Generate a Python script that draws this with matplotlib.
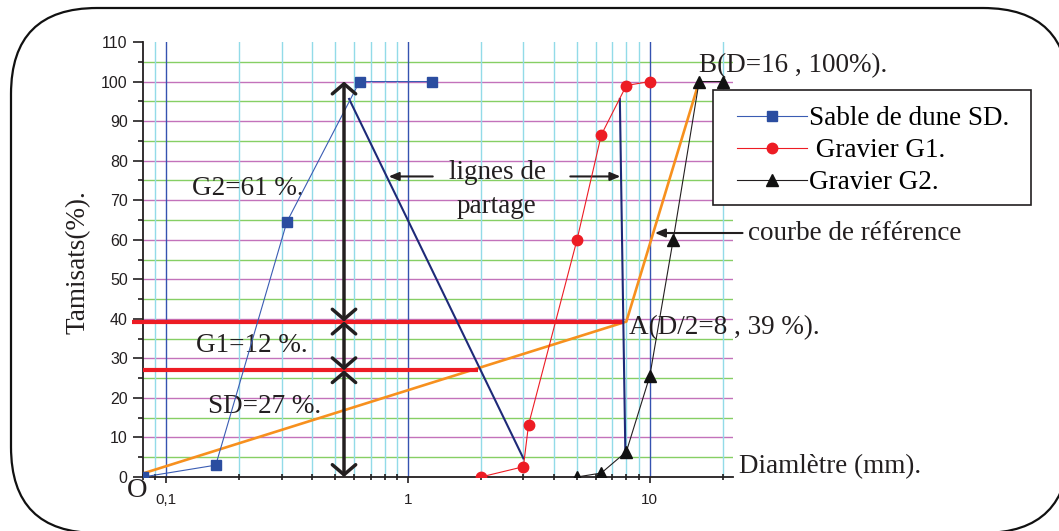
import numpy as np
import matplotlib
matplotlib.use("Agg")
import matplotlib.pyplot as plt
from matplotlib.patches import FancyBboxPatch, Rectangle
from matplotlib.transforms import IdentityTransform
from matplotlib.ticker import LogLocator, FixedLocator, FuncFormatter, MultipleLocator

# courbes granulométriques (diamètre en mm, tamisats en %)
sable_d = [0.08, 0.16, 0.315, 0.63, 1.25]
sable_t = [0, 3.0, 64.5, 100, 100]

g1_d = [2.0, 3.0, 3.15, 5.0, 6.3, 8.0, 10.0]
g1_t = [0, 2.6, 13.2, 60, 86.5, 99, 100]

g2_d = [5.0, 6.3, 8.0, 10.0, 12.5, 16.0, 20.0]
g2_t = [0, 1.0, 6.4, 25.5, 60, 100, 100]

# courbe de référence O -> A -> B
ref_d = [0.08, 8.0, 16.0]
ref_t = [0.9, 39.3, 100]

# lignes de partage
partage1_d = [0.57, 3.0]
partage1_t = [95.6, 4.7]
partage2_d = [7.52, 7.93]
partage2_t = [95.6, 5.0]

# pourcentages des constituants
pct_sd = 27.0
pct_g1 = 12.0
x_cote = 0.543

SERIF = ["Liberation Serif", "DejaVu Serif"]
SANS = ["Liberation Sans", "DejaVu Sans"]
plt.rcParams["font.family"] = SERIF

fig = plt.figure(figsize=(10.59, 5.31), dpi=100)
ax = fig.add_axes([143 / 1059, 1 - 477 / 531, 590 / 1059, 435 / 531])

ax.set_xscale("log")
ax.set_xlim(0.08, 22.1)
ax.set_ylim(0, 110)

ax.xaxis.set_major_locator(LogLocator(base=10, numticks=10))
ax.xaxis.set_minor_locator(LogLocator(base=10, subs=np.arange(2, 10), numticks=10))
ax.yaxis.set_major_locator(MultipleLocator(10))
ax.yaxis.set_minor_locator(FixedLocator(np.arange(5, 110, 10)))

# quadrillage (pas de ligne en haut à 110)
for y in range(10, 101, 10):
    ax.axhline(y, color="#c372bb", lw=1.0, zorder=0)
for y in range(5, 106, 10):
    ax.axhline(y, color="#86cf64", lw=1.0, zorder=0)
for e in (-2, -1, 0, 1):
    for k in range(2, 10):
        d = k * 10.0 ** e
        if 0.08 < d < 22:
            ax.axvline(d, color="#92dbe8", lw=1.0, zorder=0)
for d in (0.1, 1, 10):
    ax.axvline(d, color="#3552b0", lw=1.0, zorder=0)

labels_x = {0.1: "0,1", 1: "1", 10: "10"}
ax.xaxis.set_major_formatter(FuncFormatter(lambda v, p: labels_x.get(round(v, 3), "")))
ax.xaxis.set_minor_formatter(FuncFormatter(lambda v, p: ""))

for s in ["top", "right"]:
    ax.spines[s].set_visible(False)
for s in ["left", "bottom"]:
    ax.spines[s].set_linewidth(1.3)
    ax.spines[s].set_color("#231f20")

ax.tick_params(axis="y", which="major", direction="out", length=7, width=1.2, pad=4,
               labelsize=11.5, colors="#231f20")
ax.tick_params(axis="y", which="minor", direction="out", length=3.5, width=1.2, colors="#231f20")
ax.tick_params(axis="x", which="major", direction="out", length=4.5, width=1.2, pad=7,
               labelsize=11, colors="#231f20")
ax.tick_params(axis="x", which="minor", direction="inout", length=5, width=1.2, colors="#231f20")
for lab in ax.get_xticklabels() + ax.get_yticklabels():
    lab.set_family(SANS)

# courbe de référence et niveaux
ax.plot(ref_d, ref_t, color="#f7901e", lw=1.9, zorder=3)
ax.plot([0.072, 7.73], [pct_sd + pct_g1 + 0.3, pct_sd + pct_g1 + 0.3], color="#ed1c24",
        lw=3.0, zorder=3, clip_on=False, solid_capstyle="butt")
ax.plot([0.08, 1.94], [pct_sd, pct_sd], color="#ed1c24", lw=3.0, zorder=3,
        solid_capstyle="butt")

ax.plot(partage1_d, partage1_t, color="#1e2a78", lw=1.5, zorder=3)
ax.plot(partage2_d, partage2_t, color="#1e2a78", lw=1.5, zorder=3)

l1, = ax.plot(sable_d, sable_t, color="#3a5cb3", lw=0.8, marker="s", ms=7,
              mfc="#2b4da0", mec="#2b4da0", zorder=4)
l2, = ax.plot(g1_d, g1_t, color="#ed1c24", lw=0.8, marker="o", ms=7.5,
              mfc="#ed1c24", mec="#ed1c24", zorder=4)
l3, = ax.plot(g2_d, g2_t, color="#231f20", lw=0.8, marker="^", ms=8,
              mfc="#111111", mec="#111111", zorder=4)

# cotes verticales
cote = dict(arrowstyle="<->,head_length=0.72,head_width=0.84", color="#231f20", lw=2.5,
            shrinkA=0, shrinkB=0, mutation_scale=10)
for y0, y1 in [(0, pct_sd), (pct_sd, pct_sd + pct_g1 + 0.3), (pct_sd + pct_g1 + 0.3, 100)]:
    ax.annotate("", xy=(x_cote, y1), xytext=(x_cote, y0), arrowprops=cote, zorder=5)

fleche = dict(arrowstyle="-|>,head_length=0.6,head_width=0.25", color="#231f20", lw=1.5,
              shrinkA=0, shrinkB=0, mutation_scale=10)
ax.annotate("", xy=(0.831, 76), xytext=(1.265, 76), arrowprops=fleche)
ax.annotate("", xy=(7.56, 76), xytext=(4.69, 76), arrowprops=fleche)
ax.annotate("", xy=(10.5, 61.7), xytext=(24.2, 61.7), arrowprops=fleche,
            annotation_clip=False)

fs = 19.5
ax.text(2.34, 77, "lignes de", fontsize=fs, ha="center", va="center", color="#231f20")
ax.text(2.32, 68.5, "partage", fontsize=fs, ha="center", va="center", color="#231f20")
ax.text(25.5, 61.7, "courbe de référence", fontsize=fs, ha="left", va="center", color="#231f20")
ax.text(16.0, 104, "B(D=16 , 100%).", fontsize=fs, ha="left", va="center", color="#231f20")
ax.text(8.2, 37.8, "A(D/2=8 , 39 %).", fontsize=fs, ha="left", va="center", color="#231f20")
ax.text(23.5, 2.6, "Diamlètre (mm).", fontsize=fs, ha="left", va="center", color="#231f20")
ax.text(0.0756, -3.4, "O", fontsize=20.5, ha="center", va="center", color="#231f20")
ax.text(0.127, 73, "G2=61 %.", fontsize=fs, ha="left", va="center", color="#231f20")
ax.text(0.132, 33.2, "G1=12 %.", fontsize=fs, ha="left", va="center", color="#231f20")
ax.text(0.148, 17.8, "SD=27 %.", fontsize=fs, ha="left", va="center", color="#231f20")

fig.text(78 / 1059, 1 - 262 / 531, "Tamisats(%).", rotation=90, fontsize=fs,
         ha="center", va="center", color="#231f20")

# cadre de la légende (rectangle blanc) puis contenu sans cadre
boite = Rectangle((713, 531 - 205), 318, 115, transform=IdentityTransform(),
                  fc="white", ec="#231f20", lw=1.2, zorder=9)
fig.add_artist(boite)
leg = fig.legend([l1, l2, l3], ["Sable de dune SD.", " Gravier G1.", "Gravier G2."],
                 loc="upper left", bbox_to_anchor=(737 / 1059, 1 - 106 / 531),
                 fontsize=fs, handlelength=2.6, handletextpad=0.05, labelspacing=0.26,
                 borderpad=0, borderaxespad=0, frameon=False, numpoints=1)
leg.set_zorder(10)

# cadre arrondi autour de la figure (rempli en blanc, sous les axes, pour que
# le bord qui dépasse de l'image ne soit pas ramené sur le bord du canevas)
cadre = FancyBboxPatch((11, -2), 1058, 525, boxstyle="round,pad=0,rounding_size=86",
                       transform=IdentityTransform(), fc="white", ec="#111111", lw=1.6,
                       clip_on=False, zorder=-1)
fig.add_artist(cadre)

fig.savefig("out.png", dpi=100)
